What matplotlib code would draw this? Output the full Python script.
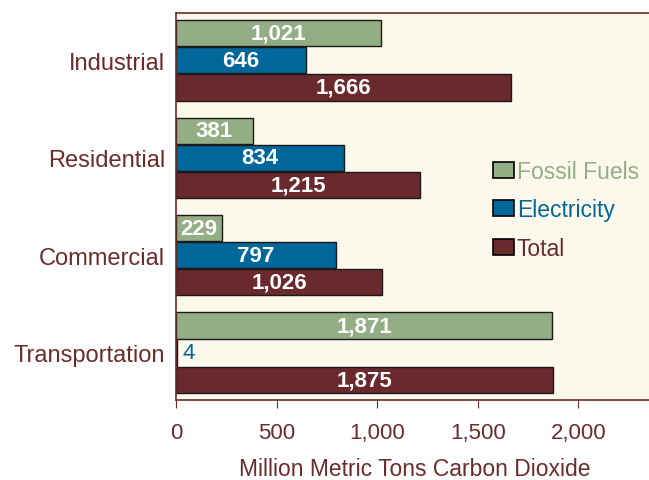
import numpy as np
import matplotlib
matplotlib.use("Agg")
import matplotlib.pyplot as plt
from matplotlib.patches import Patch

plt.rcParams["font.family"] = ["Liberation Sans", "DejaVu Sans"]

sectors = ["Industrial", "Residential", "Commercial", "Transportation"]
fossil = [1021, 381, 229, 1871]
electricity = [646, 834, 797, 4]
total = [1666, 1215, 1026, 1875]

GREEN = "#93ae85"
BLUE = "#00679a"
MAROON = "#6a2a2d"
TEXT = "#6b2c2c"
BG = "#fdf8ec"

fig = plt.figure(figsize=(6.49, 4.81), dpi=100)
ax = fig.add_axes([176 / 649, 80 / 481, 1 - 176 / 649, 387 / 481])
ax.set_facecolor(BG)

y = np.arange(len(sectors))
h = 0.278
series = [(fossil, GREEN, "Fossil Fuels", -h), (electricity, BLUE, "Electricity", 0), (total, MAROON, "Total", h)]
for vals, color, name, off in series:
    bars = ax.barh(y + off, vals, height=h * 0.97, color=color, edgecolor="#1a1a1a", linewidth=1.0)
    for b, v in zip(bars, vals):
        cy = b.get_y() + b.get_height() / 2
        if v < 100:
            ax.text(v + 30, cy, f"{v:,}", color=color, fontsize=16, ha="left", va="center")
        else:
            ax.text(v / 2, cy, f"{v:,}", color="white", fontsize=16, fontweight="bold", ha="center", va="center")

ax.set_xlim(0, 2351)
ax.set_ylim(3.485, -0.485)
ax.set_yticks(y)
ax.set_yticklabels(sectors, fontsize=17, color=TEXT)
ax.tick_params(axis="y", length=0, pad=8)
ax.set_xticks([0, 500, 1000, 1500, 2000])
ax.set_xticklabels(["0", "500", "1,000", "1,500", "2,000"], fontsize=16, color=TEXT)
ax.tick_params(axis="x", direction="out", length=6, color=TEXT, pad=10)
for s in ["left", "bottom", "top"]:
    ax.spines[s].set_color(TEXT)
    ax.spines[s].set_linewidth(1.2)
ax.spines["right"].set_visible(False)

ax.set_xlabel("Million Metric Tons Carbon Dioxide", fontsize=16.5, color=TEXT)
ax.xaxis.set_label_coords((415 - 176) / (649 - 176), -0.148)

handles = [Patch(facecolor=c, edgecolor="black", linewidth=1.2, label=n) for _, c, n, _ in series]
leg = ax.legend(handles=handles, loc="upper left", bbox_to_anchor=(0.65, 0.645), frameon=False,
                fontsize=16.5, handlelength=0.95, handleheight=0.7, handletextpad=0.1, labelspacing=0.68,
                borderaxespad=0)
for t, (_, c, _, _) in zip(leg.get_texts(), series):
    t.set_color(c)

fig.savefig("out.png", dpi=100)
